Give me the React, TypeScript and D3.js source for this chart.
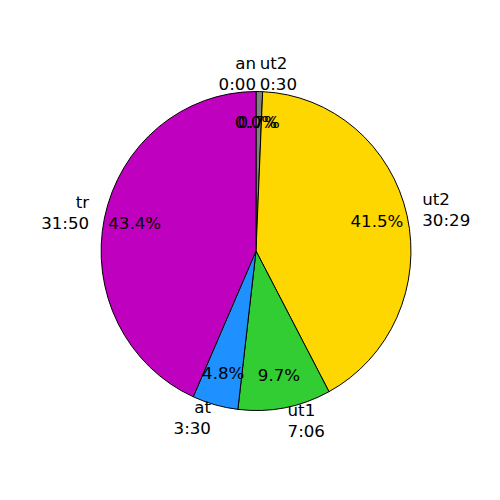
import React from "react";
import * as d3 from "d3";

const names = ["an", "ut2", "ut2", "ut1", "at", "tr"];
const durations = ["0:00", "0:30", "30:29", "7:06", "3:30", "31:50"];
const seconds = [0, 30, 1829, 426, 210, 1910];
const colors = ["#808080", "#808080", "#FFD700", "#32CD32", "#1E90FF", "#BF00BF"];

const W = 500;
const H = 500;
const cx = 256;
const cy = 251;
const rx = 155;
const ry = 159.5;
const FS = 16.67;

export default function App() {
  const idx = seconds.map((_, i) => i);
  const pie = d3
    .pie<number>()
    .sort(null)
    .value((i) => seconds[i])
    .startAngle(0)
    .endAngle(2 * Math.PI);
  const arcs = pie(idx);
  const arc = d3.arc<d3.PieArcDatum<number>>().innerRadius(0).outerRadius(1);
  const total = d3.sum(seconds);

  return (
    <svg
      width={W}
      height={H}
      style={{ position: "absolute", left: 0, top: 0, background: "#fff" }}
      fontFamily="DejaVu Sans"
      fontSize={FS}
    >
      <g transform={`translate(${cx},${cy}) scale(${rx},${ry})`}>
        {arcs.map((a) =>
          seconds[a.data] > 0 ? (
            <path
              key={a.data}
              d={arc(a) || ""}
              fill={colors[a.data]}
              stroke="#000"
              strokeWidth={1}
              vectorEffect="non-scaling-stroke"
              strokeLinejoin="round"
            />
          ) : null
        )}
      </g>
      {arcs.map((a) => {
        const mid = (a.startAngle + a.endAngle) / 2;
        const sx = Math.sin(mid);
        const sy = -Math.cos(mid);
        const lx = cx + 1.1 * rx * sx;
        const ly = cy + 1.1 * ry * sy;
        const anchor = sx > 1e-9 ? "start" : "end";
        const px = cx + 0.8 * rx * sx;
        const py = cy + 0.8 * ry * sy;
        const pct = ((seconds[a.data] / total) * 100).toFixed(1) + "%";
        return (
          <g key={a.data}>
            <text textAnchor={anchor} fill="#000">
              <tspan x={lx} y={ly - 7}>
                {names[a.data]}
              </tspan>
              <tspan x={lx} y={ly + 14}>
                {durations[a.data]}
              </tspan>
            </text>
            <text x={px} y={py + 4.5} textAnchor="middle" fill="#000">
              {pct}
            </text>
          </g>
        );
      })}
    </svg>
  );
}
